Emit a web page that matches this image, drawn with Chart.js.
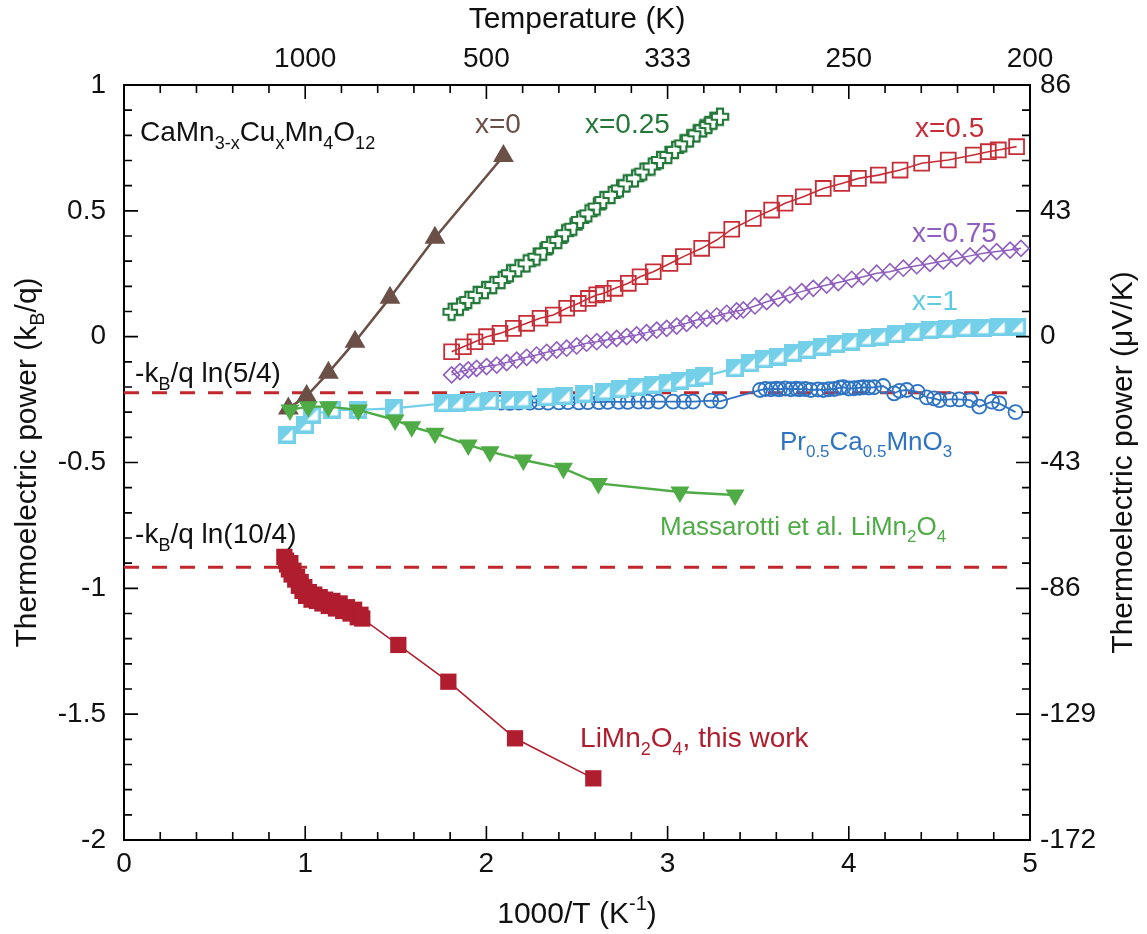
<!DOCTYPE html>
<html>
<head>
<meta charset="utf-8">
<script src="https://cdn.jsdelivr.net/npm/chart.js@4.4.1/dist/chart.umd.min.js"></script>
<style>
  html, body { margin: 0; padding: 0; background: #fff; }
  #wrap { width: 1147px; height: 934px; }
</style>
</head>
<body>
<div id="wrap"><canvas id="chart" width="1147" height="934"></canvas></div>
<script>
// x values are 1000/T (1/K), y values are thermoelectric power in kB/q

// CaMn3-xCuxMn4O12, x = 0
const x0X = [0.907, 1.008, 1.128, 1.275, 1.468, 1.716, 2.094];
const x0Y = [-0.285, -0.236, -0.143, -0.020, 0.155, 0.393, 0.718];

// x = 0.25
const x25X = [1.808, 1.854, 1.900, 1.946, 1.992, 2.038, 2.084, 2.130, 2.176, 2.222, 2.277, 2.314,
  2.351, 2.397, 2.434, 2.480, 2.517, 2.563, 2.609, 2.645, 2.691, 2.737, 2.774, 2.820, 2.866, 2.912,
  2.958, 3.004, 3.041, 3.087, 3.124, 3.160, 3.197, 3.225, 3.252, 3.289];
const x25Y = [0.099, 0.119, 0.146, 0.166, 0.185, 0.205, 0.225, 0.252, 0.272, 0.291, 0.318, 0.338,
  0.364, 0.384, 0.411, 0.437, 0.464, 0.490, 0.517, 0.543, 0.563, 0.589, 0.609, 0.629, 0.656, 0.676,
  0.702, 0.722, 0.742, 0.768, 0.788, 0.808, 0.828, 0.841, 0.858, 0.874];

// x = 0.5
const x50X = [1.808, 1.873, 1.937, 2.001, 2.075, 2.149, 2.222, 2.296, 2.369, 2.443, 2.507, 2.563,
  2.609, 2.645, 2.710, 2.783, 2.848, 2.921, 3.013, 3.087, 3.188, 3.271, 3.354, 3.473, 3.574, 3.648,
  3.749, 3.859, 3.961, 4.053, 4.163, 4.283, 4.402, 4.549, 4.687, 4.770, 4.825, 4.926];
const x50Y = [-0.060, -0.040, -0.020, 0.000, 0.013, 0.033, 0.053, 0.073, 0.086, 0.113, 0.132, 0.152,
  0.166, 0.172, 0.192, 0.212, 0.238, 0.258, 0.291, 0.318, 0.351, 0.384, 0.427, 0.470, 0.503, 0.530,
  0.556, 0.589, 0.609, 0.629, 0.642, 0.662, 0.689, 0.702, 0.722, 0.735, 0.742, 0.755];

// x = 0.75
const x75X = [1.808, 1.854, 1.900, 1.946, 2.001, 2.057, 2.112, 2.167, 2.222, 2.277, 2.333, 2.388,
  2.443, 2.498, 2.553, 2.609, 2.664, 2.719, 2.774, 2.829, 2.884, 2.940, 2.995, 3.050, 3.105, 3.160,
  3.216, 3.271, 3.326, 3.381, 3.418, 3.482, 3.547, 3.611, 3.675, 3.740, 3.804, 3.878, 3.942, 4.016,
  4.080, 4.154, 4.227, 4.301, 4.375, 4.448, 4.522, 4.595, 4.669, 4.743, 4.816, 4.890, 4.950];
const x75Y = [-0.152, -0.139, -0.132, -0.126, -0.119, -0.113, -0.103, -0.093, -0.082, -0.073, -0.062, -0.053,
  -0.046, -0.037, -0.026, -0.020, -0.013, -0.007, 0.000, 0.007, 0.016, 0.026, 0.033, 0.042, 0.053, 0.066,
  0.073, 0.082, 0.093, 0.102, 0.106, 0.122, 0.139, 0.152, 0.166, 0.179, 0.192, 0.205, 0.215, 0.228,
  0.238, 0.252, 0.258, 0.272, 0.282, 0.291, 0.301, 0.311, 0.321, 0.331, 0.338, 0.344, 0.351];

// x = 1
const x100X = [0.90, 1.00, 1.04, 1.15, 1.29, 1.49, 1.76, 1.84, 1.93, 2.02, 2.13, 2.20, 2.33, 2.43,
  2.54, 2.65, 2.74, 2.83, 2.92, 3.00, 3.07, 3.15, 3.20, 3.37, 3.455, 3.53, 3.61, 3.69, 3.77, 3.85,
  3.93, 4.01, 4.10, 4.17, 4.26, 4.36, 4.45, 4.54, 4.64, 4.74, 4.83, 4.93];
const x100Y = [-0.390, -0.350, -0.310, -0.291, -0.291, -0.285, -0.265, -0.262, -0.258, -0.256, -0.252, -0.250,
  -0.241, -0.236, -0.228, -0.219, -0.209, -0.199, -0.192, -0.186, -0.175, -0.166, -0.158, -0.126, -0.106,
  -0.090, -0.079, -0.066, -0.053, -0.040, -0.029, -0.020, -0.007, 0.000, 0.009, 0.017, 0.026, 0.029,
  0.033, 0.036, 0.037, 0.040];

// Pr0.5Ca0.5MnO3
const pcmX = [2.08, 2.13, 2.18, 2.24, 2.29, 2.34, 2.40, 2.45, 2.51, 2.56, 2.62, 2.67, 2.73, 2.78, 2.84,
  2.89, 2.95, 3.03, 3.09, 3.14, 3.24, 3.29, 3.51, 3.54, 3.57, 3.60, 3.62, 3.65, 3.68, 3.71, 3.73, 3.76,
  3.79, 3.83, 3.86, 3.89, 3.92, 3.95, 3.97, 4.00, 4.03, 4.06, 4.08, 4.11, 4.14, 4.19, 4.25, 4.28, 4.32,
  4.38, 4.43, 4.47, 4.50, 4.56, 4.61, 4.67, 4.72, 4.79, 4.83, 4.92];
const pcmY = [-0.262, -0.263, -0.262, -0.262, -0.261, -0.262, -0.261, -0.260, -0.261, -0.260, -0.260, -0.259,
  -0.259, -0.259, -0.258, -0.258, -0.258, -0.258, -0.258, -0.258, -0.254, -0.257, -0.212, -0.208, -0.209,
  -0.207, -0.209, -0.206, -0.209, -0.207, -0.209, -0.208, -0.212, -0.210, -0.212, -0.209, -0.208, -0.203,
  -0.201, -0.206, -0.205, -0.203, -0.201, -0.202, -0.201, -0.196, -0.225, -0.215, -0.212, -0.219, -0.241,
  -0.245, -0.252, -0.249, -0.249, -0.252, -0.278, -0.258, -0.265, -0.300];

// Massarotti et al. LiMn2O4
const masX = [0.916, 1.017, 1.128, 1.293, 1.496, 1.588, 1.716, 1.900, 2.020, 2.204, 2.425, 2.618, 3.068, 3.372];
const masY = [-0.291, -0.278, -0.278, -0.291, -0.331, -0.358, -0.384, -0.430, -0.457, -0.490, -0.523, -0.583, -0.617, -0.629];

// LiMn2O4, this work
const limX = [0.885, 0.895, 0.900, 0.910, 0.918, 0.925, 0.935, 0.945, 0.955, 0.965, 0.975, 0.985,
  0.995, 1.005, 1.020, 1.035, 1.050, 1.065, 1.080, 1.095, 1.110, 1.130, 1.150, 1.170, 1.190, 1.210,
  1.230, 1.250, 1.270, 1.290, 1.305, 1.315, 1.514, 1.790, 2.158, 2.590];
const limY = [-0.875, -0.890, -0.905, -0.925, -0.900, -0.945, -0.930, -0.965, -0.955, -0.990, -0.975, -1.010,
  -0.995, -1.030, -1.015, -1.045, -1.025, -1.050, -1.035, -1.060, -1.045, -1.070, -1.050, -1.080, -1.060, -1.090,
  -1.075, -1.100, -1.085, -1.115, -1.105, -1.120, -1.225, -1.371, -1.596, -1.755];

// reference levels -kB/q ln(5/4) and -kB/q ln(10/4)
const refX = [0, 4.93];
const ref54Y = [-0.223, -0.223];
const ref104Y = [-0.916, -0.916];

// tick labels
const leftTickLabels = ['-2', '-1.5', '-1', '-0.5', '0', '0.5', '1'];
const topTickLabels = ['', '1000', '500', '333', '250', '200'];
const rightTickLabels = ['-172', '-129', '-86', '-43', '0', '43', '86'];

const FONT = '"Liberation Sans", Arial, Helvetica, sans-serif';
const C = {
  brown: '#6b5047', green25: '#23783a', red50: '#c62d36', purple: '#8f5fbf',
  cyan: '#74d0e8', blue: '#2e74c2', mas: '#4eab45', lim: '#b01d2e', dash: '#c1272d'
};

const pts = (xs, ys) => xs.map((v, i) => ({ x: v, y: ys[i] }));

function plusMarker(color) {
  const c = document.createElement('canvas');
  c.width = c.height = 20;
  const g = c.getContext('2d');
  const o = 10, a = 3, b = 8.2;
  g.beginPath();
  g.moveTo(o - a, o - b); g.lineTo(o + a, o - b); g.lineTo(o + a, o - a); g.lineTo(o + b, o - a);
  g.lineTo(o + b, o + a); g.lineTo(o + a, o + a); g.lineTo(o + a, o + b); g.lineTo(o - a, o + b);
  g.lineTo(o - a, o + a); g.lineTo(o - b, o + a); g.lineTo(o - b, o - a); g.lineTo(o - a, o - a);
  g.closePath();
  g.fillStyle = '#fff'; g.fill();
  g.strokeStyle = color; g.lineWidth = 2.2; g.stroke();
  return c;
}

function halfSquare(color) {
  const c = document.createElement('canvas');
  c.width = c.height = 18;
  const g = c.getContext('2d');
  g.fillStyle = color; g.fillRect(0, 0, 18, 18);
  g.fillStyle = '#fff';
  g.beginPath(); g.moveTo(3.5, 14.5); g.lineTo(14.5, 14.5); g.lineTo(14.5, 3.5); g.closePath(); g.fill();
  return c;
}

// text with sub/superscripts: parts = [[text, 'sub'|'sup'|undefined], ...]
function richText(ctx, x, y, parts, size, color, align) {
  const small = Math.round(size * 0.66);
  let w = 0;
  for (const p of parts) {
    ctx.font = (p[1] ? small : size) + 'px ' + FONT;
    w += ctx.measureText(p[0]).width;
  }
  let cx = align === 'center' ? x - w / 2 : (align === 'right' ? x - w : x);
  ctx.fillStyle = color;
  ctx.textAlign = 'left';
  ctx.textBaseline = 'alphabetic';
  for (const p of parts) {
    ctx.font = (p[1] ? small : size) + 'px ' + FONT;
    const dy = p[1] === 'sub' ? size * 0.28 : (p[1] === 'sup' ? -size * 0.42 : 0);
    ctx.fillText(p[0], cx, y + dy);
    cx += ctx.measureText(p[0]).width;
  }
}

// annotations placed in data coordinates
const notes = [
  { x: 0.088, y: 0.777, size: 28, color: '#111', parts: [['CaMn'], ['3-x', 'sub'], ['Cu'], ['x', 'sub'], ['Mn'], ['4', 'sub'], ['O'], ['12', 'sub']] },
  { x: 1.937, y: 0.809, size: 28, color: C.brown, parts: [['x=0']] },
  { x: 2.544, y: 0.809, size: 28, color: C.green25, parts: [['x=0.25']] },
  { x: 4.365, y: 0.793, size: 28, color: C.red50, parts: [['x=0.5']] },
  { x: 4.349, y: 0.376, size: 28, color: C.purple, parts: [['x=0.75']] },
  { x: 4.349, y: 0.106, size: 28, color: '#5ccbe0', parts: [['x=1']] },
  { x: 3.620, y: -0.450, size: 26, color: C.blue, parts: [['Pr'], ['0.5', 'sub'], ['Ca'], ['0.5', 'sub'], ['MnO'], ['3', 'sub']] },
  { x: 2.958, y: -0.788, size: 26, color: C.mas, parts: [['Massarotti et al. LiMn'], ['2', 'sub'], ['O'], ['4', 'sub']] },
  { x: 2.517, y: -1.630, size: 28, color: C.lim, parts: [['LiMn'], ['2', 'sub'], ['O'], ['4', 'sub'], [', this work']] },
  { x: 0.061, y: -0.180, size: 28, color: '#111', parts: [['-k'], ['B', 'sub'], ['/q ln(5/4)']] },
  { x: 0.061, y: -0.820, size: 28, color: '#111', parts: [['-k'], ['B', 'sub'], ['/q ln(10/4)']] }
];

const frameDecor = {
  id: 'frameDecor',
  afterDraw(chart) {
    const { ctx, chartArea: a, scales } = chart;
    ctx.save();
    // inward major/minor ticks on all four sides
    ctx.strokeStyle = '#000';
    ctx.lineWidth = 1.6;
    ctx.beginPath();
    for (let i = 0; i <= 25; i++) {
      const px = scales.x.getPixelForValue(i / 5);
      const len = i % 5 === 0 ? 14 : 8;
      ctx.moveTo(px, a.bottom); ctx.lineTo(px, a.bottom - len);
      ctx.moveTo(px, a.top); ctx.lineTo(px, a.top + len);
    }
    for (let i = 0; i <= 30; i++) {
      const py = scales.y.getPixelForValue(-2 + i / 10);
      const len = i % 5 === 0 ? 14 : 8;
      ctx.moveTo(a.left, py); ctx.lineTo(a.left + len, py);
      ctx.moveTo(a.right, py); ctx.lineTo(a.right - len, py);
    }
    ctx.stroke();

    // axis titles
    const cx = (a.left + a.right) / 2, cy = (a.top + a.bottom) / 2;
    richText(ctx, cx, 28, [['Temperature (K)']], 30, '#111', 'center');
    richText(ctx, cx, 923, [['1000/T (K'], ['-1', 'sup'], [')']], 30, '#111', 'center');
    ctx.save();
    ctx.translate(36, cy); ctx.rotate(-Math.PI / 2);
    richText(ctx, 0, 0, [['Thermoelectric power (k'], ['B', 'sub'], ['/q)']], 30, '#111', 'center');
    ctx.restore();
    ctx.save();
    ctx.translate(1132, cy); ctx.rotate(-Math.PI / 2);
    richText(ctx, 0, 0, [['Thermoelectric power (\u03BCV/K)']], 30, '#111', 'center');
    ctx.restore();

    // annotations
    for (const n of notes) {
      richText(ctx, scales.x.getPixelForValue(n.x), scales.y.getPixelForValue(n.y), n.parts, n.size, n.color, 'left');
    }
    ctx.restore();
  }
};

const tickFont = { family: FONT, size: 28 };
const axisBase = {
  type: 'linear',
  grid: { drawOnChartArea: false, drawTicks: false },
  border: { color: '#000', width: 2 }
};

new Chart(document.getElementById('chart'), {
  type: 'line',
  data: {
    datasets: [
      { label: 'LiMn2O4, this work', data: pts(limX, limY), order: 0,
        borderColor: C.lim, backgroundColor: C.lim, borderWidth: 1.6,
        pointStyle: 'rect', pointRadius: 11.5, pointBorderWidth: 0, pointBackgroundColor: C.lim },
      { label: 'Massarotti et al.', data: pts(masX, masY), order: 1,
        borderColor: C.mas, backgroundColor: C.mas, borderWidth: 2.4,
        pointStyle: 'triangle', rotation: 180, pointRadius: 11, pointBorderWidth: 0, pointBackgroundColor: C.mas },
      { label: 'x=1', data: pts(x100X, x100Y), order: 2,
        borderColor: C.cyan, backgroundColor: C.cyan, borderWidth: 2.2,
        pointStyle: halfSquare(C.cyan), pointRadius: 9 },
      { label: 'Pr0.5Ca0.5MnO3', data: pts(pcmX, pcmY), order: 3,
        borderColor: C.blue, backgroundColor: 'rgba(0,0,0,0)', borderWidth: 1.8,
        pointStyle: 'circle', pointRadius: 7, pointBorderWidth: 1.8, pointBackgroundColor: 'rgba(0,0,0,0)' },
      { label: 'x=0.75', data: pts(x75X, x75Y), order: 4,
        borderColor: C.purple, backgroundColor: 'rgba(0,0,0,0)', borderWidth: 1.5,
        pointStyle: 'rectRot', pointRadius: 8, pointBorderWidth: 1.6, pointBackgroundColor: 'rgba(0,0,0,0)' },
      { label: 'x=0.5', data: pts(x50X, x50Y), order: 5,
        borderColor: C.red50, backgroundColor: 'rgba(0,0,0,0)', borderWidth: 1.6,
        pointStyle: 'rect', pointRadius: 10.5, pointBorderWidth: 1.8, pointBackgroundColor: 'rgba(0,0,0,0)' },
      { label: 'x=0.25', data: pts(x25X, x25Y), order: 6,
        borderColor: C.green25, backgroundColor: C.green25, borderWidth: 1.2,
        pointStyle: plusMarker(C.green25), pointRadius: 10 },
      { label: 'x=0', data: pts(x0X, x0Y), order: 7,
        borderColor: C.brown, backgroundColor: C.brown, borderWidth: 2.6,
        pointStyle: 'triangle', pointRadius: 12, pointBorderWidth: 0, pointBackgroundColor: C.brown },
      { label: 'ln(5/4)', data: pts(refX, ref54Y), order: 8,
        borderColor: C.dash, borderWidth: 3, borderDash: [15, 13], pointRadius: 0 },
      { label: 'ln(10/4)', data: pts(refX, ref104Y), order: 9,
        borderColor: C.dash, borderWidth: 3, borderDash: [15, 13], pointRadius: 0 }
    ].map(d => Object.assign({ xAxisID: 'x', yAxisID: 'y', tension: 0, fill: false }, d))
  },
  options: {
    responsive: false,
    animation: false,
    events: [],
    layout: { padding: 0, autoPadding: false },
    plugins: { legend: { display: false }, tooltip: { enabled: false } },
    scales: {
      x: Object.assign({}, axisBase, {
        position: 'bottom', min: 0, max: 5,
        ticks: { stepSize: 1, padding: 7, font: tickFont, color: '#111', maxRotation: 0, autoSkip: false },
        afterFit: s => { s.height = 94; }
      }),
      x2: Object.assign({}, axisBase, {
        position: 'top', min: 0, max: 5,
        ticks: { stepSize: 1, padding: 9, font: tickFont, color: '#111', maxRotation: 0, autoSkip: false,
          callback: (v, i) => topTickLabels[i] },
        afterFit: s => { s.height = 85; }
      }),
      y: Object.assign({}, axisBase, {
        position: 'left', min: -2, max: 1,
        ticks: { stepSize: 0.5, padding: 18, font: tickFont, color: '#111',
          callback: (v, i) => leftTickLabels[i] },
        afterFit: s => { s.width = 124; }
      }),
      y2: Object.assign({}, axisBase, {
        position: 'right', min: -2, max: 1,
        ticks: { stepSize: 0.5, padding: 10, font: tickFont, color: '#111',
          callback: (v, i) => rightTickLabels[i] },
        afterFit: s => { s.width = 117; }
      })
    }
  },
  plugins: [frameDecor]
});
</script>
</body>
</html>
